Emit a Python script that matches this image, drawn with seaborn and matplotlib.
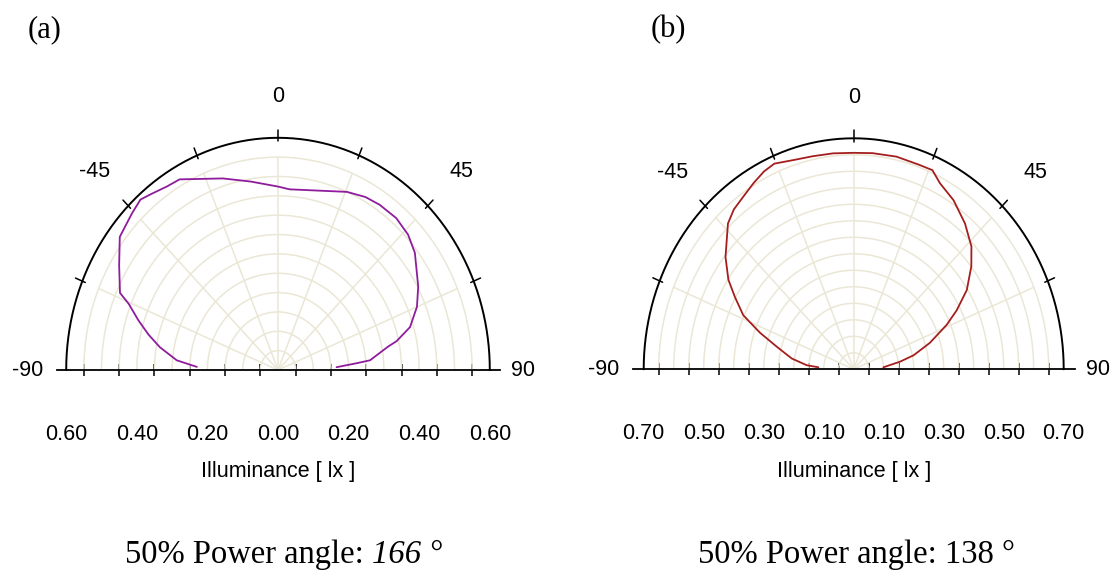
import numpy as np
import pandas as pd
import matplotlib
matplotlib.use("Agg")
import matplotlib.pyplot as plt
import seaborn as sns
from matplotlib import font_manager

### ------------------------------------------------------------------ ###
### Values: angle (deg) and illuminance (lx)

angle_a = [-88, -85, -80, -76, -72, -68, -66, -59, -52.5, -49.5, -45.5, -41.5, -38.5, -33.5,
           -29.5, -17.5, -9, 0, 4, 23, 29, 34, 40.5, 46.5, 52, 61.5, 67.5, 73.5, 77.5, 79,
           84.5, 85.5, 87.5]
lux_a = [0.230, 0.288, 0.340, 0.378, 0.416, 0.456, 0.490, 0.525, 0.565, 0.570, 0.579, 0.588,
         0.580, 0.569, 0.566, 0.519, 0.493, 0.474, 0.468, 0.500, 0.511, 0.515, 0.516, 0.508,
         0.492, 0.452, 0.426, 0.390, 0.344, 0.318, 0.262, 0.224, 0.166]

angle_b = [-87, -85.5, -81, -75, -70.5, -66, -61, -57, -51.5, -43.5, -39.5, -35, -30.5, -26.5,
           -23, -17.5, -12, -6, 0, 5.5, 12.5, 19.5, 23.5, 27, 33, 40, 46.5, 51.5, 57.5, 62.5,
           66.5, 72.5, 78, 81.5, 86.5]
lux_b = [0.118, 0.157, 0.209, 0.266, 0.331, 0.403, 0.453, 0.498, 0.546, 0.609, 0.628, 0.640,
         0.656, 0.670, 0.677, 0.665, 0.660, 0.658, 0.656, 0.658, 0.660, 0.657, 0.658, 0.633,
         0.611, 0.577, 0.541, 0.501, 0.447, 0.387, 0.338, 0.266, 0.204, 0.156, 0.099]

ticks_a = [-0.6, -0.4, -0.2, 0.0, 0.2, 0.4, 0.6]
ticklabels_a = ["0.60", "0.40", "0.20", "0.00", "0.20", "0.40", "0.60"]
ticks_b = [-0.7, -0.5, -0.3, -0.1, 0.1, 0.3, 0.5, 0.7]
ticklabels_b = ["0.70", "0.50", "0.30", "0.10", "0.10", "0.30", "0.50", "0.70"]

power_a = "166"
power_b = "138"

### ------------------------------------------------------------------ ###
### Style

sns.set_style("white")
names = {f.name for f in font_manager.fontManager.ttflist}
sans = "Liberation Sans Narrow" if "Liberation Sans Narrow" in names else "Liberation Sans"
plt.rcParams["font.family"] = [sans, "DejaVu Sans"]
plt.rcParams["text.color"] = "black"
plt.rcParams["xtick.color"] = "black"
plt.rcParams["xtick.labelcolor"] = "black"
serif = ["Liberation Serif", "DejaVu Serif"]

W, H = 1115, 579
fig = plt.figure(figsize=(W / 100, H / 100), dpi=100)
fig.patch.set_facecolor("white")

grid_color = "#ebe7d6"


def draw_panel(cx, cy, sx, sy, rmax, angles, lux, color, ticks, ticklabels, base):
    # axes box in pixels, data units mapped so that the centre sits at (cx, cy)
    L, R, T, B = cx - 258, min(cx + 258, W), 60, 505
    ax = fig.add_axes([L / W, (H - B) / H, (R - L) / W, (B - T) / H])
    ax.set_xlim((L - cx) / sx, (R - cx) / sx)
    ax.set_ylim((cy - B) / sy, (cy - T) / sy)

    t = np.radians(np.linspace(-90, 90, 361))
    rings = np.arange(0.05, rmax - 0.01, 0.05)
    for r in rings:
        ax.plot(r * np.sin(t), r * np.cos(t), color=grid_color, lw=1.1, zorder=1)
    for a in np.radians(np.arange(-67.5, 68, 22.5)):
        ax.plot([0, rings[-1] * np.sin(a)], [0, rings[-1] * np.cos(a)],
                color=grid_color, lw=1.1, zorder=1)

    # outer arc with its small ticks
    ax.plot(rmax * np.sin(t), rmax * np.cos(t), color="black", lw=1.4, zorder=3)
    for a in np.radians(np.arange(-67.5, 68, 22.5)):
        ax.plot([0.985 * rmax * np.sin(a), 1.035 * rmax * np.sin(a)],
                [0.985 * rmax * np.cos(a), 1.035 * rmax * np.cos(a)],
                color="black", lw=1.1, zorder=3)

    df = pd.DataFrame({"angle": angles, "lux": lux})
    df["x"] = df["lux"] * np.sin(np.radians(df["angle"]))
    df["y"] = df["lux"] * np.cos(np.radians(df["angle"]))
    sns.lineplot(data=df, x="x", y="y", sort=False, estimator=None,
                 color=color, lw=1.3, ax=ax, zorder=4)

    # baseline as the bottom spine
    for s in ["top", "left", "right"]:
        ax.spines[s].set_visible(False)
    ax.spines["bottom"].set_position(("data", 0))
    ax.spines["bottom"].set_bounds(base[0], base[1])
    ax.spines["bottom"].set_color("black")
    ax.spines["bottom"].set_linewidth(1.3)
    ax.set_xticks(ticks)
    ax.set_xticklabels(ticklabels)
    minor = np.arange(0.05, rmax, 0.1)
    ax.set_xticks(np.concatenate([-minor[::-1], minor]), minor=True)
    ax.tick_params(axis="x", which="major", length=0, pad=39, labelsize=15.5)
    ax.tick_params(axis="x", which="minor", length=9, width=1.1,
                   direction="inout", color="black", bottom=True)
    ax.set_yticks([])
    ax.set_xlabel("")
    ax.set_ylabel("")

    # angle labels
    fs = 15.5
    ax.text(0, 1.177 * rmax, "0", ha="center", va="center", fontsize=fs)
    ax.text(-0.864 * rmax, 0.854 * rmax, "-45", ha="center", va="center", fontsize=fs)
    ax.text(0.864 * rmax, 0.854 * rmax, "45", ha="center", va="center", fontsize=fs)
    ax.text(base[0] - 14 / sx, 0, "-90", ha="right", va="center", fontsize=fs)
    ax.text(base[1] + 11 / sx, 0, "90", ha="left", va="center", fontsize=fs)
    ax.text(0, (cy - 472) / sy, "Illuminance [ lx ]", ha="center", va="center", fontsize=fs)
    return ax


ax_a = draw_panel(278, 370, 353, 387, 0.6, angle_a, lux_a, "#8e1c9c",
                  ticks_a, ticklabels_a, (-0.626, 0.629))
ax_b = draw_panel(853.7, 369.3, 300, 330, 0.7, angle_b, lux_b, "#a41e1e",
                  ticks_b, ticklabels_b, (-0.736, 0.738))

# panel letters
fig.text(45 / W, 1 - 30 / H, "(a)", ha="center", va="center", fontsize=22, family=serif)
fig.text(668 / W, 1 - 30 / H, "(b)", ha="center", va="center", fontsize=22, family=serif)

# captions
t1 = fig.text(125 / W, 1 - 563 / H, "50% Power angle:", ha="left", va="baseline",
              fontsize=23.5, family=serif)
fig.canvas.draw()
ext = t1.get_window_extent()
fig.text((ext.x1 + 8) / W, 1 - 563 / H, power_a + " \u00b0", ha="left", va="baseline",
         fontsize=23.5, family=serif, style="italic")
fig.text(698 / W, 1 - 563 / H, "50% Power angle: " + power_b + " \u00b0", ha="left",
         va="baseline", fontsize=23.5, family=serif)

fig.savefig("out.png", dpi=100, facecolor="white")
